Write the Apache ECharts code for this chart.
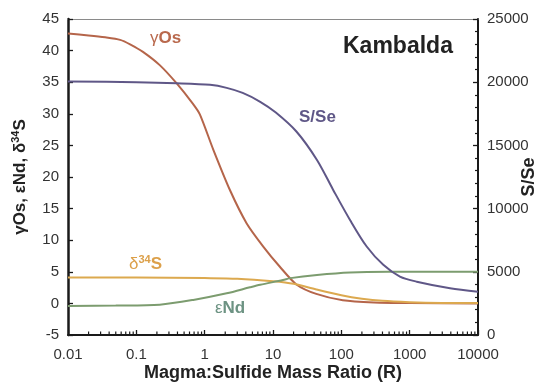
<!DOCTYPE html>
<html><head><meta charset="utf-8">
<script src="https://cdn.jsdelivr.net/npm/echarts@6/dist/echarts.min.js"></script>
<style>html,body{margin:0;padding:0;background:#fff}#c{width:543px;height:384px}</style>
</head><body><div id="c"></div>
<script>
// ---- data ----
const osR   = [0.01, 0.02, 0.035, 0.058, 0.081, 0.125, 0.22, 0.39, 0.67, 0.85, 1.34, 2.35, 4.1, 7.2, 12.6, 22, 43, 105, 300, 1000, 10000];
const osVal = [42.7, 42.4, 42.1, 41.7, 41.0, 39.8, 37.7, 34.8, 31.6, 29.9, 24.3, 17.9, 12.7, 9.0, 5.8, 3.0, 1.5, 0.5, 0.15, 0.05, 0.0];

const sR    = [0.01, 0.1, 1, 3, 10, 20, 43, 100, 200, 400, 1000, 3000, 10000];
const sVal  = [4.1, 4.1, 4.0, 3.9, 3.5, 3.1, 2.2, 1.3, 0.75, 0.4, 0.2, 0.08, 0.05];

const ndR   = [0.01, 0.05, 0.22, 0.68, 2.1, 4.6, 6.5, 14, 18, 44, 134, 500, 2000, 10000];
const ndVal = [-0.4, -0.35, -0.2, 0.55, 1.6, 2.55, 2.95, 3.7, 4.0, 4.5, 4.9, 5.0, 5.0, 5.0];

const seR   = [0.01, 0.1, 0.39, 1.2, 2.1, 3.6, 6.5, 11, 22, 44, 76, 134, 235, 411, 720, 1270, 3900, 10000];
const seVal = [20050, 20000, 19920, 19790, 19550, 19150, 18450, 17600, 16100, 13850, 11480, 9100, 7000, 5550, 4620, 4220, 3700, 3430];

const leftTicks  = {min: -5, max: 45, interval: 5};
const rightTicks = {min: 0, max: 25000, interval: 5000};
const xRange     = {min: 0.01, max: 10000};

// ---- helpers ----
const zip = (a, b) => a.map((v, i) => [v, b[i]]);
const minorX = [];
for (let k = -2; k <= 3; k++) for (let m = 2; m <= 9; m++) minorX.push([+(m * Math.pow(10, k)).toPrecision(3), leftTicks.min]);

const FONT = '"Liberation Sans", Arial, Helvetica, sans-serif';
const C_OS = '#b5654a', C_SE = '#5f5787', C_ND = '#7c9c6f', C_S = '#dca94f';
const T_OS = '#b9694d', T_ND = '#6d9383', T_S = '#dca04a';

const chart = echarts.init(document.getElementById('c'), null, {renderer: 'canvas'});
chart.setOption({
  animation: false,
  backgroundColor: '#fff',
  textStyle: {fontFamily: FONT},
  grid: {left: 68, right: 65, top: 19, bottom: 49, containLabel: false, outerBoundsMode: 'none'},
  xAxis: [{
    type: 'log', logBase: 10, min: xRange.min, max: xRange.max,
    name: 'Magma:Sulfide Mass Ratio (R)', nameLocation: 'middle', nameGap: 29, nameMoveOverlap: false,
    nameTextStyle: {fontFamily: FONT, fontWeight: 'bold', fontSize: 18, color: '#222'},
    axisLine: {show: true, onZero: false, lineStyle: {color: '#1a1a1a', width: 2}},
    axisTick: {show: true, inside: true, length: 5, lineStyle: {color: '#1a1a1a', width: 1.3}},
    axisLabel: {fontFamily: FONT, fontSize: 15, color: '#333', margin: 12,
      formatter: v => (v < 1 ? String(+v.toPrecision(3)) : String(Math.round(v)))},
    splitLine: {show: false}
  }, {
    type: 'log', logBase: 10, min: xRange.min, max: xRange.max, position: 'top',
    axisLine: {show: true, onZero: false, lineStyle: {color: '#8a8a8a', width: 1}},
    axisTick: {show: false}, axisLabel: {show: false}, splitLine: {show: false}
  }],
  yAxis: [{
    type: 'value', min: leftTicks.min, max: leftTicks.max, interval: leftTicks.interval,
    name: '{a|γOs, εNd, δ}{s|34}{a|S}', nameLocation: 'middle', nameGap: 38, nameRotate: 90, nameMoveOverlap: false,
    nameTextStyle: {rich: {
      a: {fontFamily: FONT, fontWeight: 'bold', fontSize: 17, color: '#222'},
      s: {fontFamily: FONT, fontWeight: 'bold', fontSize: 11, color: '#222', padding: [0, 0, 9, 0]}
    }},
    axisLine: {show: true, onZero: false, lineStyle: {color: '#1a1a1a', width: 2.5}},
    axisTick: {show: true, inside: true, length: 5, lineStyle: {color: '#1a1a1a', width: 1.3}},
    axisLabel: {fontFamily: FONT, fontSize: 15, color: '#333', margin: 9},
    splitLine: {show: false}
  }, {
    type: 'value', min: rightTicks.min, max: rightTicks.max, interval: rightTicks.interval, position: 'right',
    name: 'S/Se', nameLocation: 'middle', nameGap: 42, nameRotate: 90, nameMoveOverlap: false,
    nameTextStyle: {fontFamily: FONT, fontWeight: 'bold', fontSize: 18, color: '#222'},
    axisLine: {show: true, onZero: false, lineStyle: {color: '#1a1a1a', width: 2}},
    axisTick: {show: true, inside: true, length: 5, lineStyle: {color: '#1a1a1a', width: 1.3}},
    minorTick: {show: true, splitNumber: 5, length: 3, lineStyle: {color: '#1a1a1a', width: 1.2}},
    axisLabel: {fontFamily: FONT, fontSize: 15, color: '#333', margin: 9, formatter: v => String(v)},
    splitLine: {show: false}
  }],
  series: [
    {name: 'γOs', type: 'line', data: zip(osR, osVal), showSymbol: false, smooth: 0.25,
     lineStyle: {color: C_OS, width: 2}, itemStyle: {color: C_OS}},
    {name: 'δ34S', type: 'line', data: zip(sR, sVal), showSymbol: false, smooth: 0.3,
     lineStyle: {color: C_S, width: 2}, itemStyle: {color: C_S}},
    {name: 'εNd', type: 'line', data: zip(ndR, ndVal), showSymbol: false, smooth: 0.3,
     lineStyle: {color: C_ND, width: 2}, itemStyle: {color: C_ND}},
    {name: 'S/Se', type: 'line', yAxisIndex: 1, data: zip(seR, seVal), showSymbol: false, smooth: 0.3,
     lineStyle: {color: C_SE, width: 2}, itemStyle: {color: C_SE}},
    {type: 'custom', silent: true, clip: false, data: minorX, encode: {x: 0, y: 1},
     renderItem: (p, api) => {
       const pt = api.coord([api.value(0), api.value(1)]);
       return {type: 'line', shape: {x1: pt[0], y1: pt[1], x2: pt[0], y2: pt[1] - 3.5},
               style: {stroke: '#1a1a1a', lineWidth: 1.2}};
     }}
  ],
  graphic: [
    {type: 'text', left: 343, top: 35, style: {text: 'Kambalda', fill: '#222', font: 'bold 23px ' + FONT}},
    {type: 'text', left: 150, top: 30, style: {
      text: '{g|γ}{b|Os}', rich: {
        g: {fontFamily: FONT, fontSize: 17, fill: T_OS},
        b: {fontFamily: FONT, fontWeight: 'bold', fontSize: 17, fill: T_OS}}}},
    {type: 'text', left: 299, top: 109, style: {text: 'S/Se', fill: C_SE, font: 'bold 17px ' + FONT}},
    {type: 'text', left: 215, top: 300, style: {
      text: '{g|ε}{b|Nd}', rich: {
        g: {fontFamily: FONT, fontSize: 17, fill: T_ND},
        b: {fontFamily: FONT, fontWeight: 'bold', fontSize: 17, fill: T_ND}}}},
    {type: 'text', left: 129, top: 254, style: {
      text: '{g|δ}{s|34}{b|S}', rich: {
        g: {fontFamily: FONT, fontSize: 17, fill: T_S},
        s: {fontFamily: FONT, fontWeight: 'bold', fontSize: 11, fill: T_S, padding: [0, 0, 9, 0]},
        b: {fontFamily: FONT, fontWeight: 'bold', fontSize: 17, fill: T_S}}}}
  ]
});
</script>
</body></html>
